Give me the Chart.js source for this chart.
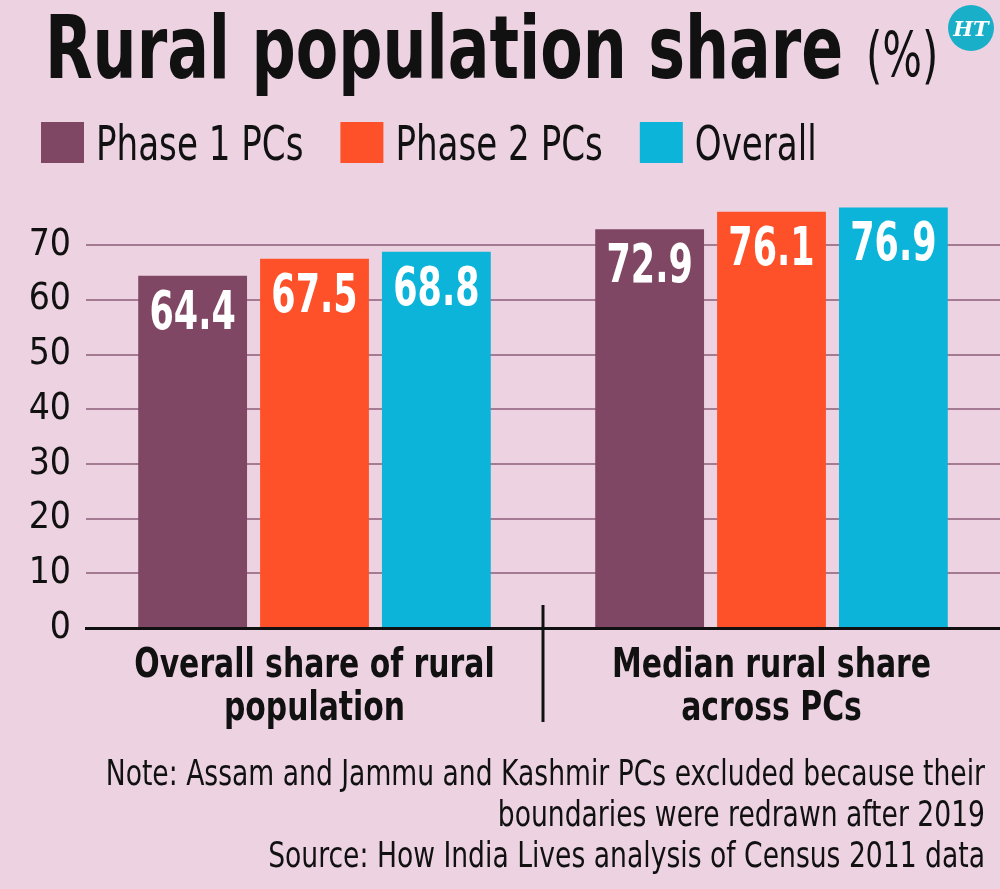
<!DOCTYPE html>
<html>
<head>
<meta charset="utf-8">
<script src="https://cdn.jsdelivr.net/npm/chart.js@4.4.1/dist/chart.umd.min.js"></script>
<style>
  html, body { margin: 0; padding: 0; background: #edd3e2; }
  #chart { display: block; }
</style>
</head>
<body>
<canvas id="chart" width="1000" height="889"></canvas>
<script>
const categories = [['Overall share of rural', 'population'], ['Median rural share', 'across PCs']];
const seriesNames = ['Phase 1 PCs', 'Phase 2 PCs', 'Overall'];
const phase1 = [64.4, 72.9];
const phase2 = [67.5, 76.1];
const overall = [68.8, 76.9];
const yTicks = [0, 10, 20, 30, 40, 50, 60, 70];
const titleText = 'Rural population share';
const unitText = '(%)';
const noteLines = [
    'Note: Assam and Jammu and Kashmir PCs excluded because their',
    'boundaries were redrawn after 2019',
    'Source: How India Lives analysis of Census 2011 data'
];

const FONT = "'DejaVu Sans Condensed', 'Liberation Sans Narrow', sans-serif";
const INK = '#111';
const colors = ['#7f4763', '#fe5029', '#0db4d9'];

// text squeezed horizontally, the original uses a very narrow face
function squeezed(ctx, text, x, y, sx, align) {
    const w = ctx.measureText(text).width * sx;
    const left = align === 'right' ? x - w : align === 'center' ? x - w / 2 : x;
    ctx.save();
    ctx.translate(left, y);
    ctx.scale(sx, 1);
    ctx.textAlign = 'left';
    ctx.fillText(text, 0, 0);
    ctx.restore();
    return w;
}

// title, logo, legend and note
const header = {
    id: 'header',
    beforeDraw(chart) {
        const ctx = chart.ctx;
        ctx.save();
        ctx.fillStyle = '#edd3e2';
        ctx.fillRect(0, 0, chart.width, chart.height);
        ctx.textBaseline = 'alphabetic';
        ctx.fillStyle = INK;

        ctx.font = 'bold 87px ' + FONT;
        squeezed(ctx, titleText, 45, 78, 0.79, 'left');
        ctx.font = '62px ' + FONT;
        squeezed(ctx, unitText, 866, 76, 0.75, 'left');

        // HT logo
        ctx.fillStyle = '#1aafc8';
        ctx.beginPath();
        ctx.arc(971, 28, 23, 0, Math.PI * 2);
        ctx.fill();
        ctx.fillStyle = '#fff';
        ctx.font = "italic bold 21px 'DejaVu Serif', serif";
        ctx.textAlign = 'center';
        ctx.fillText('HT', 971, 36);

        // legend
        let x = 41;
        ctx.font = '48px ' + FONT;
        chart.data.datasets.forEach(ds => {
            ctx.fillStyle = ds.backgroundColor;
            ctx.fillRect(x, 122, 43, 41);
            ctx.fillStyle = INK;
            const w = squeezed(ctx, ds.label, x + 55, 160, 0.79, 'left');
            x += 55 + w + 37;
        });

        // note
        ctx.font = '35px ' + FONT;
        noteLines.forEach((line, i) => squeezed(ctx, line, 985, 785 + i * 41, 0.845, 'right'));
        ctx.restore();
    }
};

// white value labels near the top of each bar
const valueLabels = {
    id: 'valueLabels',
    afterDatasetsDraw(chart) {
        const ctx = chart.ctx;
        ctx.save();
        ctx.fillStyle = '#fff';
        ctx.font = 'bold 54px ' + FONT;
        ctx.textBaseline = 'alphabetic';
        chart.data.datasets.forEach((ds, i) => {
            chart.getDatasetMeta(i).data.forEach((bar, j) => {
                squeezed(ctx, ds.data[j].toFixed(1), bar.x, bar.y + 53, 0.72, 'center');
            });
        });
        ctx.restore();
    }
};

// category names under the axis and the divider between groups
const categoryLabels = {
    id: 'categoryLabels',
    afterDraw(chart) {
        const x = chart.scales.x;
        const b = chart.chartArea.bottom;
        const ctx = chart.ctx;
        ctx.save();
        ctx.fillStyle = INK;
        ctx.font = 'bold 40px ' + FONT;
        ctx.textBaseline = 'alphabetic';
        chart.data.labels.forEach((lines, i) => {
            const cx = x.getPixelForValue(i);
            lines.forEach((line, k) => squeezed(ctx, line, cx, b + 49 + k * 43, 0.83, 'center'));
        });
        const px = (x.getPixelForValue(0) + x.getPixelForValue(1)) / 2;
        ctx.strokeStyle = INK;
        ctx.lineWidth = 3;
        ctx.beginPath();
        ctx.moveTo(px, b - 23);
        ctx.lineTo(px, b + 94);
        ctx.stroke();
        ctx.restore();
    }
};

new Chart(document.getElementById('chart'), {
    type: 'bar',
    data: {
        labels: categories,
        datasets: [
            { label: seriesNames[0], data: phase1, backgroundColor: colors[0] },
            { label: seriesNames[1], data: phase2, backgroundColor: colors[1] },
            { label: seriesNames[2], data: overall, backgroundColor: colors[2] }
        ]
    },
    options: {
        responsive: false,
        animation: false,
        layout: { padding: { top: 200, left: 0, right: 0, bottom: 0 } },
        datasets: { bar: { categoryPercentage: 0.8, barPercentage: 0.893 } },
        plugins: {
            tooltip: { enabled: false },
            legend: { display: false }
        },
        scales: {
            x: {
                grid: { display: false },
                border: { color: INK, width: 3 },
                ticks: { display: false },
                afterFit(s) { s.height = 261; }
            },
            y: {
                min: 0, max: 78.25,
                afterBuildTicks(s) { s.ticks = yTicks.map(v => ({ value: v })); },
                afterFit(s) { s.width = 86; },
                border: { display: false },
                grid: {
                    drawTicks: false, lineWidth: 2,
                    color: c => (c.tick && c.tick.value === 0) ? 'rgba(0,0,0,0)' : '#a57b93'
                },
                ticks: { color: INK, padding: 15, font: { family: FONT, size: 37 } }
            }
        }
    },
    plugins: [header, valueLabels, categoryLabels]
});
</script>
</body>
</html>
